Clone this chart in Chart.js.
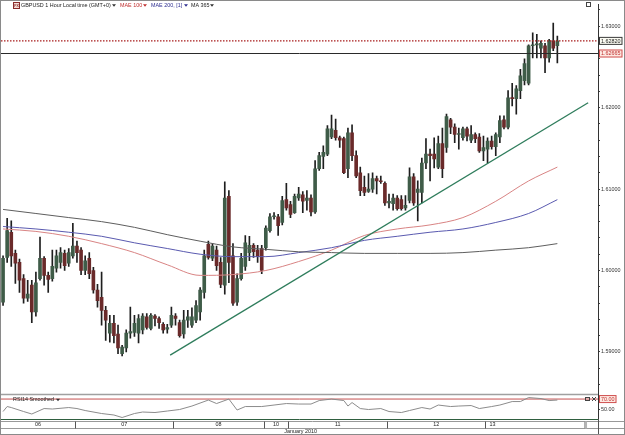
<!DOCTYPE html>
<html>
<head>
<meta charset="utf-8">
<script src="https://cdn.jsdelivr.net/npm/chart.js@4.4.1/dist/chart.umd.min.js"></script>
<style>
  html, body { margin: 0; padding: 0; background: #fff; }
  canvas { display: block; }
</style>
</head>
<body>
<canvas id="fxChart" width="625" height="435"></canvas>
<script>
// GBPUSD 1 hour candles, one per slot (slot 0 = 6 Jan 06:00)
const opens = [
  1.5961, 1.6016, 1.6047, 1.6021, 1.6010, 1.5990, 1.5966, 1.5982, 1.5949, 1.5990,
  1.6015, 1.5994, 1.5990, 1.6003, 1.6010, 1.6021, 1.6009, 1.6018, 1.6030, 1.6025,
  1.6000, 1.6015, 1.6000, 1.5976, 1.5967, 1.5951, 1.5923, 1.5935, 1.5922, 1.5898,
  1.5905, 1.5923, 1.5924, 1.5923, 1.5927, 1.5943, 1.5929, 1.5944, 1.5941, 1.5934,
  1.5928, 1.5933, 1.5944, 1.5936, 1.5922, 1.5939, 1.5933, 1.5939, 1.5949, 1.5973,
  1.6032, 1.6015, 1.6025, 1.6010, 1.5982, 1.6091, 1.6018, 1.5961, 1.5990, 1.6005,
  1.6022, 1.6031, 1.6025, 1.6027, 1.6028, 1.6049, 1.6066, 1.6066, 1.6059, 1.6087,
  1.6081, 1.6071, 1.6089, 1.6093, 1.6086, 1.6089, 1.6072, 1.6125, 1.6140, 1.6143,
  1.6164, 1.6172, 1.6163, 1.6162, 1.6125, 1.6169, 1.6141, 1.6120, 1.6102, 1.6097,
  1.6100, 1.6113, 1.6110, 1.6107, 1.6083, 1.6082, 1.6089, 1.6087, 1.6077, 1.6086,
  1.6115, 1.6096, 1.6096, 1.6132, 1.6143, 1.6143, 1.6127, 1.6156, 1.6151, 1.6185,
  1.6176, 1.6167, 1.6163, 1.6174, 1.6160, 1.6167, 1.6164, 1.6147, 1.6149, 1.6159,
  1.6152, 1.6164, 1.6185, 1.6176, 1.6212, 1.6211, 1.6221, 1.6233, 1.6230, 1.6276,
  1.6277, 1.6273, 1.6276, 1.6261, 1.6282, 1.6276
];
const highs = [
  1.6018, 1.6064, 1.6061, 1.6025, 1.6014, 1.5995, 1.5988, 1.5988, 1.5998, 1.6041,
  1.6017, 1.5998, 1.6025, 1.6025, 1.6028, 1.6025, 1.6027, 1.6058, 1.6036, 1.6028,
  1.6018, 1.6022, 1.6004, 1.5983, 1.5998, 1.5956, 1.5945, 1.5945, 1.5933, 1.5908,
  1.5927, 1.5955, 1.5945, 1.5946, 1.5947, 1.5947, 1.5947, 1.5946, 1.5943, 1.5936,
  1.5934, 1.5955, 1.5947, 1.5939, 1.5951, 1.5951, 1.5954, 1.5963, 1.5979, 1.6025,
  1.6036, 1.6033, 1.6030, 1.6016, 1.6109, 1.6098, 1.6033, 1.5996, 1.6021, 1.6043,
  1.6042, 1.6033, 1.6031, 1.6031, 1.6055, 1.6070, 1.6071, 1.6069, 1.6091, 1.6107,
  1.6085, 1.6094, 1.6102, 1.6097, 1.6098, 1.6093, 1.6135, 1.6145, 1.6153, 1.6178,
  1.6191, 1.6186, 1.6165, 1.6164, 1.6175, 1.6179, 1.6147, 1.6127, 1.6116, 1.6119,
  1.6120, 1.6116, 1.6116, 1.6109, 1.6094, 1.6094, 1.6092, 1.6092, 1.6092, 1.6126,
  1.6119, 1.6110, 1.6138, 1.6162, 1.6149, 1.6163, 1.6165, 1.6175, 1.6192, 1.6187,
  1.6180, 1.6175, 1.6176, 1.6176, 1.6178, 1.6169, 1.6168, 1.6165, 1.6163, 1.6165,
  1.6169, 1.6190, 1.6190, 1.6221, 1.6230, 1.6227, 1.6247, 1.6260, 1.6277, 1.6292,
  1.6290, 1.6282, 1.6279, 1.6284, 1.6304, 1.6288
];
const lows = [
  1.5957, 1.6010, 1.6005, 1.5984, 1.5973, 1.5960, 1.5962, 1.5936, 1.5944, 1.5988,
  1.5982, 1.5973, 1.5987, 1.5998, 1.6003, 1.6000, 1.6005, 1.6015, 1.6010, 1.5995,
  1.5995, 1.5990, 1.5972, 1.5955, 1.5933, 1.5914, 1.5912, 1.5911, 1.5898, 1.5895,
  1.5900, 1.5917, 1.5919, 1.5911, 1.5922, 1.5928, 1.5927, 1.5932, 1.5929, 1.5923,
  1.5923, 1.5930, 1.5933, 1.5918, 1.5917, 1.5930, 1.5930, 1.5936, 1.5939, 1.5966,
  1.6014, 1.6012, 1.6000, 1.5979, 1.5971, 1.5985, 1.5957, 1.5957, 1.5988, 1.6000,
  1.6012, 1.6016, 1.6010, 1.5996, 1.6025, 1.6047, 1.6063, 1.6043, 1.6056, 1.6074,
  1.6065, 1.6070, 1.6086, 1.6071, 1.6074, 1.6067, 1.6070, 1.6123, 1.6125, 1.6141,
  1.6162, 1.6160, 1.6151, 1.6119, 1.6114, 1.6135, 1.6114, 1.6092, 1.6092, 1.6096,
  1.6096, 1.6094, 1.6107, 1.6080, 1.6077, 1.6074, 1.6074, 1.6074, 1.6074, 1.6083,
  1.6080, 1.6061, 1.6083, 1.6125, 1.6110, 1.6126, 1.6125, 1.6114, 1.6145, 1.6168,
  1.6157, 1.6149, 1.6160, 1.6159, 1.6157, 1.6157, 1.6145, 1.6135, 1.6132, 1.6149,
  1.6141, 1.6157, 1.6174, 1.6174, 1.6202, 1.6192, 1.6211, 1.6228, 1.6228, 1.6261,
  1.6261, 1.6261, 1.6243, 1.6256, 1.6270, 1.6255
];
const closes = [
  1.6015, 1.6049, 1.6018, 1.6009, 1.5988, 1.5966, 1.5971, 1.5949, 1.5985, 1.6015,
  1.5994, 1.5989, 1.6005, 1.6018, 1.6022, 1.6006, 1.6022, 1.6030, 1.6022, 1.6000,
  1.6012, 1.5996, 1.5976, 1.5963, 1.5951, 1.5939, 1.5935, 1.5920, 1.5905, 1.5906,
  1.5923, 1.5925, 1.5935, 1.5941, 1.5944, 1.5930, 1.5945, 1.5941, 1.5936, 1.5927,
  1.5930, 1.5945, 1.5941, 1.5920, 1.5939, 1.5943, 1.5943, 1.5957, 1.5976, 1.6018,
  1.6016, 1.6030, 1.6006, 1.5983, 1.6089, 1.6010, 1.5960, 1.5990, 1.6015, 1.6034,
  1.6031, 1.6023, 1.6017, 1.6000, 1.6052, 1.6066, 1.6067, 1.6055, 1.6086, 1.6077,
  1.6069, 1.6091, 1.6094, 1.6085, 1.6089, 1.6072, 1.6125, 1.6141, 1.6145, 1.6174,
  1.6174, 1.6163, 1.6160, 1.6120, 1.6169, 1.6141, 1.6116, 1.6098, 1.6096, 1.6100,
  1.6113, 1.6110, 1.6109, 1.6083, 1.6085, 1.6089, 1.6076, 1.6076, 1.6080, 1.6115,
  1.6083, 1.6100, 1.6132, 1.6143, 1.6141, 1.6137, 1.6156, 1.6125, 1.6189, 1.6176,
  1.6167, 1.6168, 1.6174, 1.6165, 1.6167, 1.6162, 1.6147, 1.6151, 1.6159, 1.6152,
  1.6167, 1.6184, 1.6176, 1.6212, 1.6211, 1.6223, 1.6239, 1.6254, 1.6276, 1.6277,
  1.6278, 1.6279, 1.6261, 1.6282, 1.6273, 1.6282
];

// time row: first slot of each day box
const dayStarts = [0, 18, 42, 64, 70, 94, 118, 142];
const dayLabels = ['06', '07', '08', '10', '11', '12', '13'];
const monthLabel = 'January 2010';

// moving averages, read every 8 slots
const maSlots = [0, 8, 16, 24, 32, 40, 48, 56, 64, 72, 80, 88, 96, 104, 112, 120, 128, 135];
const mae100 = [1.6051, 1.6048, 1.6042, 1.6033, 1.6022, 1.6007, 1.5994, 1.5995, 1.6000, 1.6011, 1.6025, 1.6043, 1.6051, 1.6056, 1.6065, 1.6085, 1.6110, 1.6127];
const mae200 = [1.6054, 1.6051, 1.6047, 1.6042, 1.6034, 1.6027, 1.6020, 1.6017, 1.6017, 1.6022, 1.6028, 1.6037, 1.6042, 1.6047, 1.6051, 1.6059, 1.6070, 1.6087];
const ma365 = [1.6075, 1.6070, 1.6065, 1.6060, 1.6053, 1.6044, 1.6036, 1.6029, 1.6026, 1.6023, 1.6022, 1.6021, 1.6021, 1.6021, 1.6022, 1.6025, 1.6028, 1.6033];

// RSI14 smoothed
const rsiSlots = [0, 1, 2, 5, 7, 10, 12, 16, 18, 20, 24, 27, 29, 32, 34, 37, 40, 43, 46, 50, 52, 55, 57, 59, 63, 66, 69, 72, 75, 77, 80, 83, 84, 85, 87, 89, 92, 94, 97, 99, 102, 104, 106, 109, 111, 114, 116, 119, 121, 124, 126, 128, 131, 133, 135];
const rsiValues = [45, 55, 53, 45, 40, 51, 50, 53, 51, 47, 41, 38, 33, 41, 44, 43, 46, 49, 56, 68, 61, 70, 48, 55, 55, 58, 61, 60, 60, 67, 70, 67, 56, 63, 51, 49, 51, 45, 43, 47, 53, 50, 58, 55, 56, 57, 51, 55, 58, 65, 65, 73, 71, 67, 68];

// trend line and horizontal levels
const trendSlots = [40.7, 142.5];
const trendPrices = [1.5896, 1.6206];
const bidLevel = 1.6282;
const markLevel = 1.62665;
const rsiLevel = 70;

// axis ticks
const priceMajors = [1.59, 1.60, 1.61, 1.62, 1.63];
const priceMinorStep = 0.002;
const rsiTicks = [50];

const xMin = -0.5, xMax = 144.9;
const BULL = '#3f5c48', BEAR = '#6a2a2a';
const FONT = '"Liberation Sans", Arial, sans-serif';

Chart.defaults.font.family = FONT;
Chart.defaults.font.size = 5.4;
Chart.defaults.color = '#333';

const slots = closes.map((c, i) => i);
const wickData = slots.map(i => ({ x: i, y: [lows[i], highs[i]] }));
const bodyData = slots.map(i => ({ x: i, y: [opens[i], closes[i]] }));
const pts = (xs, ys) => xs.map((x, k) => ({ x: x, y: ys[k] }));
const level = v => [{ x: xMin, y: v }, { x: xMax, y: v }];

function drawCaret(c, x, y, color) {
  c.fillStyle = color;
  c.beginPath();
  c.moveTo(x, y - 1.2);
  c.lineTo(x + 4, y - 1.2);
  c.lineTo(x + 2, y + 1.2);
  c.closePath();
  c.fill();
}

function valueBox(c, x, y, text, border, bg, color) {
  c.font = '5.4px ' + FONT;
  const w = c.measureText(text).width + 4;
  c.fillStyle = bg;
  c.fillRect(x, y - 4, w, 8);
  c.strokeStyle = border;
  c.lineWidth = 1;
  c.strokeRect(x + 0.5, y - 3.5, w - 1, 7);
  c.fillStyle = color;
  c.textAlign = 'left';
  c.textBaseline = 'middle';
  c.fillText(text, x + 2, y + 0.3);
}

const decor = {
  id: 'decor',
  beforeDraw(chart) {
    const c = chart.ctx;
    c.save();
    c.fillStyle = '#fff';
    c.fillRect(0, 0, chart.width, chart.height);
    c.restore();
  },
  afterDraw(chart) {
    const c = chart.ctx;
    const xs = chart.scales.x, ys = chart.scales.y, yr = chart.scales.yRsi;
    const area = chart.chartArea;
    c.save();
    c.lineWidth = 1;

    // panel separator and rsi bottom
    c.strokeStyle = '#a0a0a0';
    c.lineWidth = 1.5;
    c.beginPath(); c.moveTo(0, yr.top - 0.5); c.lineTo(area.right, yr.top - 0.5); c.stroke();
    c.lineWidth = 1;
    c.strokeStyle = '#2f5f3f';
    c.beginPath(); c.moveTo(1, area.bottom + 0.5); c.lineTo(area.right, area.bottom + 0.5); c.stroke();

    // time row
    const rowTop = 421.5, rowBot = 428.5;
    c.strokeStyle = '#999';
    c.beginPath();
    c.moveTo(0, rowTop); c.lineTo(625, rowTop);
    c.moveTo(0, rowBot); c.lineTo(625, rowBot);
    c.stroke();
    c.strokeStyle = '#555';
    c.beginPath();
    dayStarts.forEach((s, k) => {
      if (k === 0) return;
      const px = Math.round(xs.getPixelForValue(s - 0.5)) + 0.5;
      c.moveTo(px, rowTop); c.lineTo(px, rowBot);
    });
    c.moveTo(area.right + 0.5, area.bottom); c.lineTo(area.right + 0.5, 435);
    c.stroke();
    const lastEdge = xs.getPixelForValue(dayStarts[dayStarts.length - 1] - 0.5);
    c.fillStyle = '#b4b4b4';
    c.fillRect(lastEdge, rowTop, 3, rowBot - rowTop);

    c.font = '5.4px ' + FONT;
    c.fillStyle = '#222';
    c.textBaseline = 'middle';
    dayLabels.forEach((lab, k) => {
      const a = xs.getPixelForValue(dayStarts[k] - 0.5);
      const b = xs.getPixelForValue(dayStarts[k + 1] - 0.5);
      if (k === dayLabels.length - 1) {
        c.textAlign = 'left';
        c.fillText(lab, a + 4, 425);
      } else {
        c.textAlign = 'center';
        c.fillText(lab, (a + b) / 2, 425);
      }
    });
    c.textAlign = 'left';
    c.fillText(monthLabel, xs.getPixelForValue(68.5), 432);

    // header
    c.strokeStyle = '#8a2a2a';
    c.fillStyle = '#f3dcd6';
    c.fillRect(13, 2, 7, 7);
    c.strokeRect(13.5, 2.5, 6, 6);
    c.fillStyle = '#8a2a2a';
    c.font = 'bold 3.5px ' + FONT;
    c.textAlign = 'center';
    c.fillText('FX', 16.5, 5.8);
    c.font = '5.4px ' + FONT;
    c.textAlign = 'left';
    c.fillStyle = '#222';
    c.fillText('GBPUSD 1 Hour Local time (GMT+0)', 21, 5.5);
    drawCaret(c, 112, 5.5, '#333');
    c.fillStyle = '#c03030';
    c.fillText('MAE 100', 120, 5.5);
    drawCaret(c, 143, 5.5, '#c03030');
    c.fillStyle = '#2e2e90';
    c.fillText('MAE 200, [1]', 151, 5.5);
    drawCaret(c, 184, 5.5, '#2e2e90');
    c.fillStyle = '#222';
    c.fillText('MA 365', 191, 5.5);
    drawCaret(c, 210, 5.5, '#333');
    c.strokeStyle = '#444';
    c.strokeRect(586.5, 2.5, 4, 4);

    // rsi header and icons
    c.fillStyle = '#222';
    c.fillText('RSI14 Smoothed', 13, 400);
    drawCaret(c, 56, 400, '#333');
    c.strokeStyle = '#444';
    c.strokeRect(585.5, 397.5, 4, 3);
    c.beginPath();
    c.moveTo(592, 397); c.lineTo(596, 401);
    c.moveTo(596, 397); c.lineTo(592, 401);
    c.stroke();

    // level tags on the axis
    valueBox(c, 599, ys.getPixelForValue(bidLevel), bidLevel.toFixed(5), '#3a3a3a', '#fbfbf2', '#222');
    valueBox(c, 599, ys.getPixelForValue(markLevel), markLevel.toFixed(5), '#d05050', '#fde9e2', '#c03030');
    valueBox(c, 599, yr.getPixelForValue(rsiLevel), rsiLevel.toFixed(2), '#d05050', '#fde9e2', '#c03030');

    // frame
    c.strokeStyle = '#8a8a8a';
    c.strokeRect(0.5, 0.5, 624, 434);
    c.restore();
  }
};

new Chart(document.getElementById('fxChart'), {
  type: 'bar',
  data: {
    datasets: [
      { type: 'bar', label: 'wicks', data: wickData, yAxisID: 'y', grouped: false, barThickness: 1, minBarLength: 1, backgroundColor: '#1e1e1e', order: 3 },
      { type: 'bar', label: 'bodies', data: bodyData, yAxisID: 'y', grouped: false, barThickness: 3, minBarLength: 1,
        backgroundColor: ctx => closes[ctx.dataIndex] >= opens[ctx.dataIndex] ? BULL : BEAR, order: 2 },
      { type: 'line', label: 'MA 365', data: pts(maSlots, ma365), yAxisID: 'y', borderColor: '#5e5e5e', borderWidth: 1, pointRadius: 0, cubicInterpolationMode: 'monotone', order: 1 },
      { type: 'line', label: 'MAE 200', data: pts(maSlots, mae200), yAxisID: 'y', borderColor: '#5a5ab0', borderWidth: 1, pointRadius: 0, cubicInterpolationMode: 'monotone', order: 1 },
      { type: 'line', label: 'MAE 100', data: pts(maSlots, mae100), yAxisID: 'y', borderColor: '#d98484', borderWidth: 1, pointRadius: 0, cubicInterpolationMode: 'monotone', order: 1 },
      { type: 'line', label: 'trend', data: pts(trendSlots, trendPrices), yAxisID: 'y', borderColor: '#2f7d5c', borderWidth: 1.3, pointRadius: 0, order: 0 },
      { type: 'line', label: 'bid', data: level(bidLevel), yAxisID: 'y', borderColor: '#a81c1c', borderWidth: 1.2, borderDash: [1.5, 1.5], pointRadius: 0, order: 0 },
      { type: 'line', label: 'mark', data: level(markLevel), yAxisID: 'y', borderColor: '#2a2a2a', borderWidth: 1, pointRadius: 0, order: 0 },
      { type: 'line', label: 'RSI', data: pts(rsiSlots, rsiValues), yAxisID: 'yRsi', borderColor: '#8c8c8c', borderWidth: 1, pointRadius: 0, order: 0 },
      { type: 'line', label: 'RSI 70', data: level(rsiLevel), yAxisID: 'yRsi', borderColor: '#c45050', borderWidth: 1, pointRadius: 0, order: 0 }
    ]
  },
  options: {
    responsive: false,
    animation: false,
    events: [],
    layout: { padding: { top: 3, left: 1, right: 0, bottom: 0 } },
    plugins: { legend: { display: false }, tooltip: { enabled: false } },
    scales: {
      x: {
        type: 'linear', min: xMin, max: xMax, offset: false,
        grid: { display: false, offset: false }, border: { display: false },
        ticks: { display: false },
        afterFit: s => { s.height = 16; }
      },
      y: {
        type: 'linear', position: 'right', stack: 'panes', stackWeight: 392,
        min: 1.5847, max: 1.6327,
        border: { display: true, color: '#333' },
        grid: { drawOnChartArea: false, drawTicks: true, tickLength: 2, color: '#444' },
        ticks: {
          autoSkip: false, padding: 1, color: '#333',
          callback: v => priceMajors.some(m => Math.abs(m - v) < 1e-6) ? v.toFixed(5) : ''
        },
        afterBuildTicks: s => {
          const t = [];
          for (let v = priceMajors[0] - 2 * priceMinorStep; v < s.max; v += priceMinorStep) {
            if (v > s.min) t.push({ value: +v.toFixed(3) });
          }
          s.ticks = t;
        },
        afterFit: s => { s.width = 27; }
      },
      yRsi: {
        type: 'linear', position: 'right', stack: 'panes', stackWeight: 24,
        min: 30, max: 78,
        border: { display: true, color: '#333' },
        grid: { drawOnChartArea: false, drawTicks: true, tickLength: 2, color: '#444' },
        ticks: { autoSkip: false, padding: 1, color: '#333', callback: v => v.toFixed(2) },
        afterBuildTicks: s => { s.ticks = rsiTicks.map(v => ({ value: v })); },
        afterFit: s => { s.width = 27; }
      }
    }
  },
  plugins: [decor]
});
</script>
</body>
</html>
